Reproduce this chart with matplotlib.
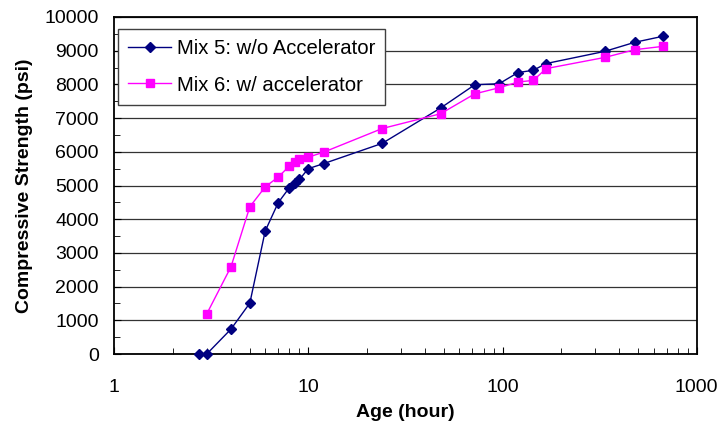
import numpy as np
import matplotlib.pyplot as plt
from matplotlib.ticker import FixedLocator, NullFormatter, MultipleLocator

plt.rcParams['font.family'] = ['Liberation Sans', 'DejaVu Sans']

# dados
age_mix5 = [2.75, 3, 4, 5, 6, 7, 8, 8.5, 9, 10, 12, 24, 48, 72, 96, 120, 144, 168, 336, 480, 672]
strength_mix5 = [0, 0, 740, 1510, 3650, 4490, 4940, 5060, 5180, 5500, 5650,
                 6250, 7300, 7990, 8020, 8350, 8420, 8620, 8980, 9250, 9430]

age_mix6 = [3, 4, 5, 6, 7, 8, 8.5, 9, 10, 12, 24, 48, 72, 96, 120, 144, 168, 336, 480, 672]
strength_mix6 = [1190, 2590, 4370, 4960, 5250, 5580, 5710, 5800, 5840, 5990,
                 6690, 7130, 7720, 7900, 8070, 8120, 8470, 8800, 9030, 9130]

label_mix5 = 'Mix 5: w/o Accelerator'
label_mix6 = 'Mix 6: w/ accelerator'
x_ticks = [1, 10, 100, 1000]

fig = plt.figure(figsize=(7.22, 4.25), dpi=100)
ax = fig.add_axes([0.158, 0.167, 0.807, 0.793])

ax.plot(age_mix5, strength_mix5, color='#000080', linewidth=1.0, marker='D',
        markersize=5.5, label=label_mix5, clip_on=False, zorder=3)
ax.plot(age_mix6, strength_mix6, color='#FF00FF', linewidth=1.0, marker='s',
        markersize=6, label=label_mix6, clip_on=False, zorder=3)

ax.set_xscale('log')
ax.set_xlim(1, 1000)
ax.set_ylim(0, 10000)
ax.xaxis.set_major_locator(FixedLocator(x_ticks))
ax.set_xticklabels([str(t) for t in x_ticks])
ax.xaxis.set_minor_locator(FixedLocator([m * 10 ** d for d in range(3) for m in range(2, 10)]))
ax.xaxis.set_minor_formatter(NullFormatter())
ax.yaxis.set_major_locator(MultipleLocator(1000))
ax.yaxis.set_minor_locator(MultipleLocator(500))

ax.tick_params(axis='both', which='both', direction='in', colors='black', labelsize=14)
ax.tick_params(axis='x', which='major', length=5, pad=18)
ax.tick_params(axis='x', which='minor', length=4)
ax.tick_params(axis='y', which='major', length=5, pad=11)
ax.tick_params(axis='y', which='minor', length=4)

ax.grid(True, which='major', axis='y', color='#333333', linewidth=0.9)
ax.set_axisbelow(True)
for s in ax.spines.values():
    s.set_linewidth(1.3)
    s.set_color('black')

ax.set_xlabel('Age (hour)', fontsize=14, fontweight='bold', labelpad=6)
ax.set_ylabel('Compressive Strength (psi)', fontsize=14, fontweight='bold', labelpad=8)

leg = ax.legend(loc='upper left', bbox_to_anchor=(0.007, 0.964), fontsize=14.6,
                numpoints=1, fancybox=False, framealpha=1, edgecolor='#404040',
                handlelength=2.1, handletextpad=0.3, labelspacing=0.85,
                borderpad=0.5, borderaxespad=0)
leg.get_frame().set_linewidth(1.0)

plt.savefig('out.png', dpi=100)
